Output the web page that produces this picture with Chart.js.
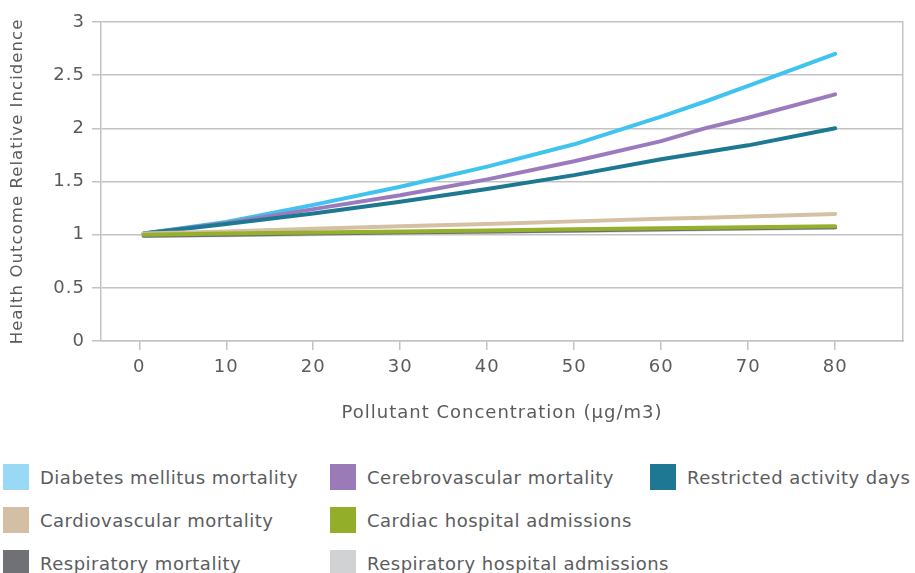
<!DOCTYPE html>
<html>
<head>
<meta charset="utf-8">
<script src="https://cdn.jsdelivr.net/npm/chart.js@4"></script>
<style>
    body { margin: 0; background: #fff; font-family: 'DejaVu Sans', sans-serif; }
    #wrap { position: relative; width: 915px; height: 440px; }
    .legend { position: relative; width: 915px; height: 133px; }
    .item { position: absolute; display: flex; align-items: center; font-size: 18px; letter-spacing: 0.5px; color: #5b5c5e; white-space: nowrap; }
    .item span { display: inline-block; width: 26px; height: 26px; margin-right: 11px; }
</style>
</head>
<body>
<div id="wrap"><canvas id="chart" width="915" height="440"></canvas></div>
<div class="legend" id="legend"></div>
<script>
// pollutant concentration (ug/m3)
const concentration = [0.5, 10, 20, 30, 40, 50, 60, 65, 70, 80];

const seriesNames = [
    'Diabetes mellitus mortality',
    'Cerebrovascular mortality',
    'Restricted activity days',
    'Cardiovascular mortality',
    'Cardiac hospital admissions',
    'Respiratory mortality',
    'Respiratory hospital admissions'
];

const diabetes = [1.01, 1.12, 1.28, 1.45, 1.64, 1.85, 2.11, 2.25, 2.40, 2.70];
const cerebrovascular = [1.01, 1.11, 1.24, 1.37, 1.52, 1.69, 1.88, 2.00, 2.10, 2.32];
const restrictedDays = [1.01, 1.10, 1.20, 1.31, 1.43, 1.56, 1.71, 1.775, 1.84, 2.00];
const cardiovascular = [1.01, 1.03, 1.055, 1.08, 1.10, 1.125, 1.15, 1.16, 1.17, 1.195];
const cardiacAdmissions = [1.00, 1.01, 1.02, 1.03, 1.04, 1.05, 1.06, 1.065, 1.07, 1.08];
const respiratoryMortality = [0.99, 1.00, 1.01, 1.02, 1.03, 1.04, 1.05, 1.055, 1.06, 1.07];
const respiratoryAdmissions = [0.99, 0.995, 1.005, 1.015, 1.025, 1.035, 1.045, 1.05, 1.055, 1.065];

const yTicks = [0, 0.5, 1, 1.5, 2, 2.5, 3];
const xTicks = [0, 10, 20, 30, 40, 50, 60, 70, 80];

const lineColors = ['#3fc3ef', '#9b7bbd', '#1d7891', '#d5c0a4', '#95b02a', '#6d6e72', '#d1d2d4'];
const swatchColors = ['#9ad9f5', '#9a7bb8', '#1e7894', '#d3bfa3', '#93ae29', '#707175', '#d1d2d4'];
// higher number is drawn first (underneath)
const drawOrder = [5, 4, 3, 2, 1, 6, 7];

const allSeries = [diabetes, cerebrovascular, restrictedDays, cardiovascular,
    cardiacAdmissions, respiratoryMortality, respiratoryAdmissions];

const gridColor = '#c3c3c3';
const textColor = '#5a5b5d';
const fontFamily = "'DejaVu Sans', sans-serif";
const font = { family: fontFamily, size: 18 };

const datasets = allSeries.map((vals, i) => ({
    label: seriesNames[i],
    data: vals.map((v, j) => ({ x: concentration[j], y: v })),
    borderColor: lineColors[i],
    backgroundColor: lineColors[i],
    borderWidth: 4,
    borderCapStyle: 'round',
    borderJoinStyle: 'round',
    pointRadius: 0,
    tension: 0,
    order: drawOrder[i]
}));

// the original font is wider, so space the canvas text out a little
const wideText = {
    id: 'wideText',
    beforeDraw: (chart) => { chart.ctx.letterSpacing = '1px'; }
};

new Chart(document.getElementById('chart'), {
    type: 'line',
    data: { datasets: datasets },
    plugins: [wideText],
    options: {
        responsive: false,
        animation: false,
        layout: { padding: { top: 22, right: 12, left: 0, bottom: 0 } },
        plugins: { legend: { display: false }, tooltip: { enabled: false } },
        scales: {
            x: {
                type: 'linear',
                min: -4.4,
                max: 87.8,
                afterBuildTicks: (scale) => {
                    scale.ticks = xTicks.map(v => ({ value: v }));
                },
                afterFit: (scale) => { scale.height = 99; },
                ticks: { color: textColor, font: font, padding: 7, maxRotation: 0 },
                grid: { drawOnChartArea: false, drawTicks: true, tickLength: 9, color: gridColor, lineWidth: 1.5 },
                border: { display: true, color: gridColor, width: 1.5 },
                title: {
                    display: true,
                    text: 'Pollutant Concentration (\u00b5g/m3)',
                    color: textColor,
                    font: { family: fontFamily, size: 18 },
                    padding: { top: 0, bottom: 16 }
                }
            },
            y: {
                min: 0,
                max: 3,
                afterBuildTicks: (scale) => {
                    scale.ticks = yTicks.map(v => ({ value: v }));
                },
                afterFit: (scale) => { scale.width = 101; },
                ticks: { color: textColor, font: font, padding: 7, callback: (v) => String(v) },
                grid: { color: gridColor, lineWidth: 1.5, tickLength: 9 },
                border: { display: true, color: gridColor, width: 1.5 },
                title: {
                    display: true,
                    text: 'Health Outcome Relative Incidence',
                    color: textColor,
                    font: { family: fontFamily, size: 16.6 },
                    padding: { top: 8, bottom: 0 }
                }
            },
            y2: {
                position: 'right',
                min: 0,
                max: 3,
                ticks: { display: false },
                grid: { drawOnChartArea: false, drawTicks: false },
                border: { display: true, color: gridColor, width: 1.5 },
                afterFit: (scale) => { scale.width = 0; }
            }
        }
    }
});

// legend, 3 columns like the original
const legendPos = [[3, 477], [330, 477], [650, 477], [3, 520], [330, 520], [3, 563], [330, 563]];
const legend = document.getElementById('legend');
seriesNames.forEach((name, i) => {
    const el = document.createElement('div');
    el.className = 'item';
    el.style.left = legendPos[i][0] + 'px';
    el.style.top = (legendPos[i][1] - 440 - 13) + 'px';
    el.innerHTML = '<span style="background:' + swatchColors[i] + '"></span>' + name;
    legend.appendChild(el);
});
</script>
</body>
</html>
